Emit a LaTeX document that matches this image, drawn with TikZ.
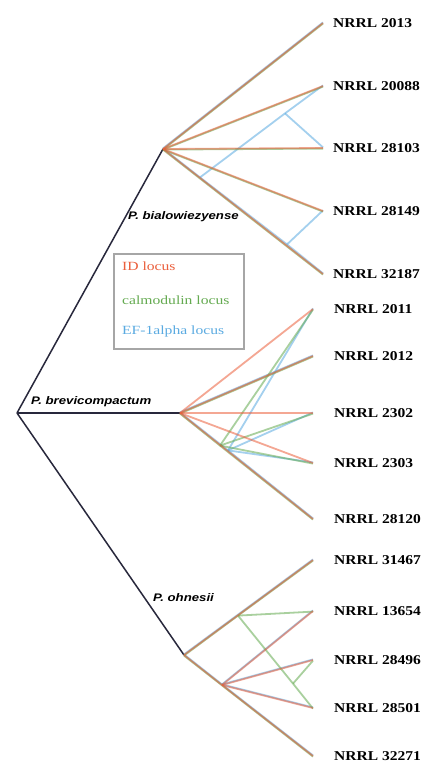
\documentclass[tikz,border=0pt]{standalone}
\usepackage{fontspec}
\usepackage{xcolor}
\usetikzlibrary{positioning}

\newfontfamily\leaffont[FakeStretch=1.15]{Liberation Serif}
\newfontfamily\cladefont[FakeStretch=1.2]{Liberation Sans}
\newfontfamily\legendfont[FakeStretch=1.25]{Liberation Serif}

\definecolor{idred}{RGB}{235,95,60}
\definecolor{calgreen}{RGB}{100,170,80}
\definecolor{efblue}{RGB}{90,170,225}
\definecolor{treeline}{RGB}{40,40,60}

\begin{document}
\begin{tikzpicture}[
    x=1pt, y=-1pt,
    leaf/.style={inner sep=0pt, anchor=west, font=\leaffont\bfseries\fontsize{13.5}{15}\selectfont},
    clade/.style={inner sep=0pt, anchor=west, font=\cladefont\bfseries\itshape\fontsize{11}{13}\selectfont},
    legend/.style={inner sep=0pt, anchor=west, font=\legendfont\fontsize{12.5}{14}\selectfont},
    species/.style={draw=treeline, line width=1.5pt},
    idline/.style={draw=idred, line width=1.8pt, opacity=.55},
    calline/.style={draw=calgreen, line width=1.8pt, opacity=.55, transform canvas={yshift=-.6pt}},
    efline/.style={draw=efblue, line width=1.8pt, opacity=.55, transform canvas={yshift=.6pt}}
]
\fill[white] (0,0) rectangle (427,765);
\useasboundingbox (0,0) rectangle (427,765);

% Species tree
\coordinate (root) at (17,413);
\coordinate (bial) at (163,149);
\coordinate (brev) at (180,413);
\coordinate (ohne) at (184,655);

% Leaf tips
\coordinate (t1) at (323,23);
\coordinate (t2) at (323,86);
\coordinate (t3) at (323,148);
\coordinate (t4) at (323,211);
\coordinate (t5) at (323,274);
\coordinate (m1) at (313,309);
\coordinate (m2) at (313,356);
\coordinate (m3) at (313,413);
\coordinate (m4) at (313,463);
\coordinate (m5) at (313,519);
\coordinate (b1) at (313,560);
\coordinate (b2) at (313,611);
\coordinate (b3) at (313,660);
\coordinate (b4) at (313,708);
\coordinate (b5) at (313,756);

% Inner nodes of the gene trees
\coordinate (efa) at (200,178);
\coordinate (efb) at (285,114);
\coordinate (efc) at (287,245);
\coordinate (calm) at (220,445);
\coordinate (efm) at (228,451);
\coordinate (idn) at (222,685);
\coordinate (caln) at (238,615);
\coordinate (calk) at (293,683);

% Leaf labels
\node (l2013) [leaf, right=10pt of t1] {NRRL 2013};
\node (l20088) [leaf, right=10pt of t2] {NRRL 20088};
\node (l28103) [leaf, right=10pt of t3] {NRRL 28103};
\node (l28149) [leaf, right=10pt of t4] {NRRL 28149};
\node (l32187) [leaf, right=10pt of t5] {NRRL 32187};
\node (l2011) [leaf, right=21pt of m1] {NRRL 2011};
\node (l2012) [leaf, right=21pt of m2] {NRRL 2012};
\node (l2302) [leaf, right=21pt of m3] {NRRL 2302};
\node (l2303) [leaf, right=21pt of m4] {NRRL 2303};
\node (l28120) [leaf, right=21pt of m5] {NRRL 28120};
\node (l31467) [leaf, right=21pt of b1] {NRRL 31467};
\node (l13654) [leaf, right=21pt of b2] {NRRL 13654};
\node (l28496) [leaf, right=21pt of b3] {NRRL 28496};
\node (l28501) [leaf, right=21pt of b4] {NRRL 28501};
\node (l32271) [leaf, right=21pt of b5] {NRRL 32271};

% Clade labels
\node (nbial) [clade] at (128,217) {P. bialowiezyense};
\node (nbrev) [clade] at (31,402) {P. brevicompactum};
\node (nohne) [clade] at (153,598) {P. ohnesii};

% Species branches
\draw [species] (root) -- (bial);
\draw [species] (root) -- (brev);
\draw [species] (root) -- (ohne);

% EF-1alpha locus
\draw [efline] (bial) -- (t1);
\draw [efline] (bial) -- (efa) -- (efc) -- (t5);
\draw [efline] (efa) -- (efb) -- (t2);
\draw [efline] (efb) -- (t3);
\draw [efline] (efc) -- (t4);
\draw [efline] (brev) -- (m2);
\draw [efline] (brev) -- (efm) -- (m5);
\draw [efline] (efm) -- (m1);
\draw [efline] (efm) -- (m3);
\draw [efline] (efm) -- (m4);
\draw [efline] (ohne) -- (b1);
\draw [efline] (ohne) -- (idn) -- (b5);
\draw [efline] (idn) -- (b2);
\draw [efline] (idn) -- (b3);
\draw [efline] (idn) -- (b4);

% calmodulin locus
\draw [calline] (bial) -- (t1);
\draw [calline] (bial) -- (t2);
\draw [calline] (bial) -- (t3);
\draw [calline] (bial) -- (t4);
\draw [calline] (bial) -- (t5);
\draw [calline] (brev) -- (m2);
\draw [calline] (brev) -- (calm) -- (m5);
\draw [calline] (calm) -- (m1);
\draw [calline] (calm) -- (m3);
\draw [calline] (calm) -- (m4);
\draw [calline] (ohne) -- (caln) -- (b1);
\draw [calline] (ohne) -- (b5);
\draw [calline] (caln) -- (b2);
\draw [calline] (caln) -- (calk) -- (b4);
\draw [calline] (calk) -- (b3);

% ID locus
\draw [idline] (bial) -- (t1);
\draw [idline] (bial) -- (t2);
\draw [idline] (bial) -- (t3);
\draw [idline] (bial) -- (t4);
\draw [idline] (bial) -- (t5);
\draw [idline] (brev) -- (m1);
\draw [idline] (brev) -- (m2);
\draw [idline] (brev) -- (m3);
\draw [idline] (brev) -- (m4);
\draw [idline] (brev) -- (m5);
\draw [idline] (ohne) -- (b1);
\draw [idline] (ohne) -- (idn) -- (b5);
\draw [idline] (idn) -- (b2);
\draw [idline] (idn) -- (b3);
\draw [idline] (idn) -- (b4);

% Legend
\draw [draw=gray!70, line width=1.5pt] (114,254) rectangle (244,349);
\node (lid) [legend, text=idred] at (122,266) {ID locus};
\node (lcal) [legend, text=calgreen] at (122,300) {calmodulin locus};
\node (lef) [legend, text=efblue] at (122,331) {EF-1alpha locus};

\end{tikzpicture}
\end{document}
